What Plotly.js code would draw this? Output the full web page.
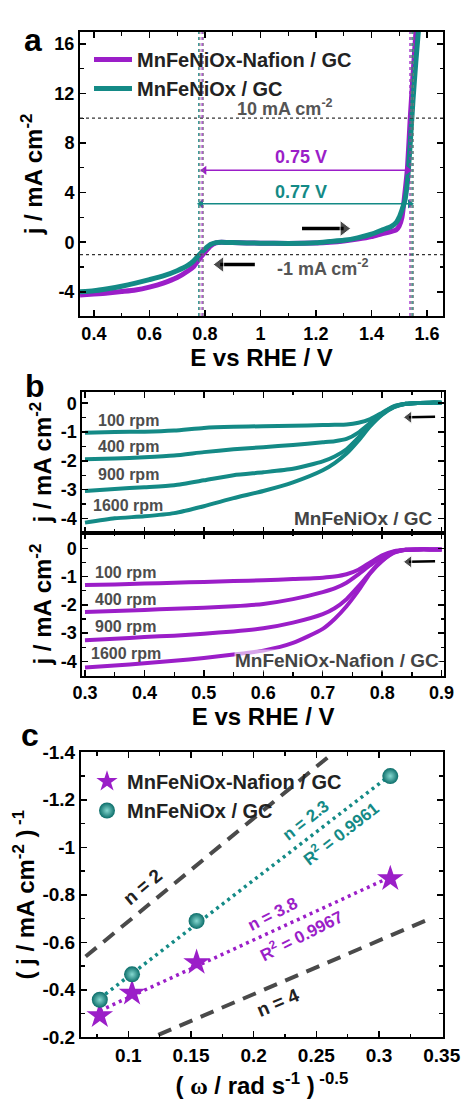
<!DOCTYPE html>
<html>
<head>
<meta charset="utf-8">
<script src="https://cdn.plot.ly/plotly-3.0.1.min.js"></script>
<style>html,body{margin:0;padding:0;background:#fff;}#chart{width:461px;height:1103px;}</style>
</head>
<body>
<div id="chart"></div>
<script>
// ---------- Panel a : LSV (ORR + OER) ----------
const aE       = [0.35,0.40,0.45,0.50,0.55,0.60,0.65,0.70,0.74,0.76,0.78,0.80,0.82,0.84,0.86,0.90,1.00,1.10,1.20,1.25,1.30,1.35,1.40,1.44,1.47,1.49,1.50,1.51,1.52,1.53,1.54,1.55,1.56,1.57];
const aNafion  = [-4.25,-4.18,-4.10,-3.98,-3.85,-3.62,-3.30,-2.85,-2.30,-1.95,-1.35,-0.80,-0.30,-0.05,0.00,-0.03,-0.08,-0.10,-0.06,0.00,0.10,0.25,0.45,0.70,0.85,1.00,1.30,2.00,3.80,6.00,10.0,13.5,16.8,20.0];
const aBare    = [-4.00,-3.92,-3.75,-3.55,-3.30,-3.02,-2.72,-2.30,-1.85,-1.50,-1.00,-0.55,-0.18,-0.03,0.00,-0.03,-0.08,-0.10,-0.05,0.05,0.15,0.35,0.65,1.00,1.25,1.60,2.00,2.60,3.30,4.90,8.00,11.5,14.5,17.2];
const aXTicks  = [0.4,0.6,0.8,1,1.2,1.4,1.6];
const aYTicks  = [-4,0,4,8,12,16];
const aRefJ    = [10, -1];                 // reference current densities (mA cm-2)
const aOnsetNafion = [0.790, 1.539];       // E at -1 and 10 mA cm-2
const aOnsetBare   = [0.778, 1.547];
const aGapLabels   = ['0.75 V', '0.77 V'];
const aGapJ        = [5.8, 3.1];

// ---------- Panel b : RDE LSVs ----------
const bE = [0.30,0.35,0.40,0.45,0.50,0.55,0.60,0.65,0.70,0.72,0.74,0.76,0.78,0.80,0.82,0.84,0.86,0.88,0.90];
const bRpm = ['100 rpm','400 rpm','900 rpm','1600 rpm'];
const bBare100  = [-1.03,-1.00,-0.99,-0.95,-0.86,-0.82,-0.80,-0.78,-0.76,-0.75,-0.74,-0.68,-0.55,-0.33,-0.10,-0.02,0.01,0.02,0.02];
const bBare400  = [-1.95,-1.92,-1.88,-1.82,-1.70,-1.60,-1.53,-1.45,-1.36,-1.32,-1.24,-1.02,-0.68,-0.36,-0.12,-0.02,0.01,0.02,0.02];
const bBare900  = [-3.05,-2.98,-2.92,-2.85,-2.68,-2.50,-2.40,-2.28,-2.02,-1.85,-1.60,-1.20,-0.75,-0.38,-0.13,-0.02,0.01,0.02,0.02];
const bBare1600 = [-4.15,-4.00,-3.93,-3.82,-3.58,-3.30,-3.05,-2.75,-2.33,-2.08,-1.75,-1.30,-0.80,-0.40,-0.14,-0.02,0.01,0.02,0.02];
const bNaf100   = [-1.30,-1.28,-1.25,-1.22,-1.19,-1.16,-1.13,-1.09,-1.04,-1.00,-0.92,-0.76,-0.50,-0.25,-0.10,-0.05,-0.04,-0.04,-0.04];
const bNaf400   = [-2.25,-2.22,-2.18,-2.14,-2.10,-2.05,-1.97,-1.80,-1.55,-1.42,-1.22,-0.92,-0.60,-0.30,-0.12,-0.05,-0.04,-0.04,-0.04];
const bNaf900   = [-3.25,-3.20,-3.14,-3.09,-3.02,-2.94,-2.83,-2.63,-2.33,-2.12,-1.80,-1.35,-0.86,-0.43,-0.15,-0.05,-0.04,-0.04,-0.04];
const bNaf1600  = [-4.22,-4.15,-4.07,-3.98,-3.88,-3.76,-3.62,-3.35,-2.85,-2.50,-2.05,-1.50,-0.88,-0.45,-0.16,-0.05,-0.04,-0.04,-0.04];
const bLabelJBare = [-0.60,-1.51,-2.49,-3.54];
const bLabelJNaf  = [-0.87,-1.81,-2.76,-3.72];
const bXTicks = [0.3,0.4,0.5,0.6,0.7,0.8,0.9];
const bYTicks = [-4,-3,-2,-1,0];

// ---------- Panel c : Koutecky-Levich ----------
const cW       = [0.0773, 0.103, 0.1545, 0.309];   // (omega / rad s-1)^-0.5
const cNafion  = [-0.291, -0.386, -0.515, -0.868];
const cBare    = [-0.358, -0.465, -0.690, -1.300];
const cN2X = [0.066, 0.264], cN2Y = [-0.54, -1.40];
const cN4X = [0.124, 0.341], cN4Y = [-0.21, -0.70];
const cXTicks = [0.1,0.15,0.2,0.25,0.3,0.35];
const cYTicks = [-1.4,-1.2,-1,-0.8,-0.6,-0.4,-0.2];

const PURPLE = '#9b1ec8', TEAL = '#148a86', GRAY = '#4a4a4a';
const FONT = 'Liberation Sans, Arial, sans-serif';
const W = 461, H = 1103;
const px = v => v / W, py = v => 1 - v / H;

function fit(x, y) {
  const n = x.length;
  const mx = x.reduce((a,b)=>a+b,0)/n, my = y.reduce((a,b)=>a+b,0)/n;
  let sxy=0, sxx=0;
  for (let i=0;i<n;i++){ sxy += (x[i]-mx)*(y[i]-my); sxx += (x[i]-mx)**2; }
  const k = sxy/sxx, b0 = my - k*mx;
  const xs = [x[0], x[n-1]];
  return {x: xs, y: xs.map(v => b0 + k*v)};
}

const traces = [];
// panel a
traces.push({x: aE, y: aNafion, xaxis:'x', yaxis:'y', mode:'lines', name:'MnFeNiOx-Nafion / GC',
  line:{color:PURPLE, width:5, shape:'spline', smoothing:0.5}, legend:'legend'});
traces.push({x: aE, y: aBare, xaxis:'x', yaxis:'y', mode:'lines', name:'MnFeNiOx / GC',
  line:{color:TEAL, width:5, shape:'spline', smoothing:0.5}, legend:'legend'});
// panel a: double-headed gap arrows and scan-direction arrows
[[aOnsetNafion, PURPLE, aGapJ[0]],[aOnsetBare, TEAL, aGapJ[1]]].forEach(([xs,c,j]) => traces.push({
  x:[xs[0]+0.008, xs[1]-0.008], y:[j,j], xaxis:'x', yaxis:'y', mode:'lines+markers', showlegend:false,
  line:{color:c, width:1.5}, marker:{symbol:['triangle-left','triangle-right'], size:8, color:c}}));
traces.push({x:[1.15,1.30], y:[1.1,1.1], xaxis:'x', yaxis:'y', mode:'lines+markers', showlegend:false,
  line:{color:'#000', width:3.5}, marker:{symbol:['circle','triangle-right'], size:[0,14], color:'#000'}});
traces.push({x:[0.98,0.855], y:[-1.8,-1.8], xaxis:'x', yaxis:'y', mode:'lines+markers', showlegend:false,
  line:{color:'#000', width:3.5}, marker:{symbol:['circle','triangle-left'], size:[0,14], color:'#000'}});
// panel b
[bBare100,bBare400,bBare900,bBare1600].forEach(y => traces.push({x:bE, y:y, xaxis:'x2', yaxis:'y2', mode:'lines',
  line:{color:TEAL, width:4, shape:'spline', smoothing:0.6}, showlegend:false}));
[bNaf100,bNaf400,bNaf900,bNaf1600].forEach(y => traces.push({x:bE, y:y, xaxis:'x3', yaxis:'y3', mode:'lines',
  line:{color:PURPLE, width:4, shape:'spline', smoothing:0.6}, showlegend:false}));
[['x2','y2',-0.47],['x3','y3',-0.46]].forEach(([xa,ya,j]) => traces.push({x:[0.889,0.845], y:[j,j-0.02], xaxis:xa, yaxis:ya,
  mode:'lines+markers', showlegend:false, line:{color:'#000', width:2.5}, marker:{symbol:['circle','triangle-left'], size:[0,11], color:'#000'}}));
// panel c
traces.push({x:cN2X, y:cN2Y, xaxis:'x4', yaxis:'y4', mode:'lines', line:{color:GRAY, width:4, dash:'14px,9px'}, showlegend:false});
traces.push({x:cN4X, y:cN4Y, xaxis:'x4', yaxis:'y4', mode:'lines', line:{color:GRAY, width:4, dash:'14px,9px'}, showlegend:false});
const fN = fit(cW, cNafion), fB = fit(cW, cBare);
traces.push({x:fB.x, y:fB.y, xaxis:'x4', yaxis:'y4', mode:'lines', line:{color:TEAL, width:3.5, dash:'3px,4px'}, showlegend:false});
traces.push({x:fN.x, y:fN.y, xaxis:'x4', yaxis:'y4', mode:'lines', line:{color:PURPLE, width:3.5, dash:'3px,4px'}, showlegend:false});
traces.push({x:cW, y:cNafion, xaxis:'x4', yaxis:'y4', mode:'markers', name:'MnFeNiOx-Nafion / GC',
  marker:{symbol:'star', size:20, color:PURPLE, line:{width:0}}, legend:'legend2'});
traces.push({x:cW, y:cBare, xaxis:'x4', yaxis:'y4', mode:'markers', name:'MnFeNiOx / GC',
  marker:{symbol:'circle', size:16, color:'#0b6d69', gradient:{type:'radial', color:'#86d8d0'}, line:{width:0}}, legend:'legend2'});

const tickFont = {family:FONT, size:18, color:'#000', weight:'bold'};
const titleFont = {family:FONT, size:24, color:'#000', weight:'bold'};
const mkMinor = (t0, dt) => ({ticks:'inside', ticklen:3.5, tickwidth:1.2, tickcolor:'#000', showgrid:false, tickmode:'linear', tick0:t0, dtick:dt});
function axis(vals, o) {
  return Object.assign({showline:true, linewidth:2, linecolor:'#000', mirror:'ticks', ticks:'inside', ticklen:6, tickwidth:1.5,
    tickcolor:'#000', showgrid:false, zeroline:false, tickfont:tickFont, fixedrange:true,
    tickmode:'array', tickvals:vals, ticktext:vals.map(String)}, o);
}

const layout = {
  width: W, height: H, margin:{l:0,r:0,t:0,b:0}, paper_bgcolor:'#fff', plot_bgcolor:'#fff',
  font:{family:FONT},
  xaxis: axis(aXTicks, {domain:[px(80),px(443)], anchor:'y', range:[0.35,1.658], minor:mkMinor(0.4,0.1),
    title:{text:'E vs RHE / V', font:titleFont, standoff:4}}),
  yaxis: axis(aYTicks, {domain:[py(316),py(32)], anchor:'x', range:[-5.95,16.95], minor:mkMinor(0,2),
    title:{text:'j / mA cm<sup>-2</sup>', font:titleFont, standoff:5}}),
  xaxis2: axis(bXTicks, {domain:[px(82.3),px(444)], anchor:'y2', range:[0.2955,0.904], showticklabels:false, minor:mkMinor(0.3,0.05)}),
  yaxis2: axis(bYTicks, {domain:[py(532.7),py(391.7)], anchor:'x2', range:[-4.5,0.4], minor:mkMinor(0,0.5),
    title:{text:'j / mA cm<sup>-2</sup>', font:titleFont, standoff:2}}),
  xaxis3: axis(bXTicks, {domain:[px(82.3),px(444)], anchor:'y3', range:[0.2955,0.904], minor:mkMinor(0.3,0.05),
    title:{text:'E vs RHE / V', font:titleFont, standoff:6}}),
  yaxis3: axis(bYTicks, {domain:[py(675.5),py(532.7)], anchor:'x3', range:[-4.5,0.55], minor:mkMinor(0,0.5),
    title:{text:'j / mA cm<sup>-2</sup>', font:titleFont, standoff:2}}),
  xaxis4: axis(cXTicks, {domain:[px(81),px(442.7)], anchor:'y4', range:[0.0623,0.3508],
    tickfont:Object.assign({}, tickFont, {size:19}), minor:mkMinor(0.1,0.025),
    title:{text:'( <span style="font-family:Liberation Serif,serif">ω</span> / rad s<sup>-1</sup> )<sup> -0.5</sup>', font:titleFont, standoff:12}}),
  yaxis4: axis(cYTicks, {domain:[py(1037.3),py(752.3)], anchor:'x4', range:[-0.2,-1.4],
    tickfont:Object.assign({}, tickFont, {size:19}), minor:mkMinor(-1.4,0.1),
    title:{text:'( j / mA cm<sup>-2</sup> )<sup> -1</sup>', font:titleFont, standoff:1}}),
  legend: {x:px(89), y:py(40), xanchor:'left', yanchor:'top', bgcolor:'rgba(0,0,0,0)', borderwidth:0,
    font:{family:FONT, size:20, color:'#222', weight:'bold'}, tracegroupgap:0, itemwidth:38},
  legend2: {x:px(87), y:py(762), xanchor:'left', yanchor:'top', bgcolor:'rgba(0,0,0,0)', borderwidth:0,
    font:{family:FONT, size:20, color:'#222', weight:'bold'}, tracegroupgap:0, itemwidth:30},
  shapes: [], annotations: []
};

// panel a reference lines
aRefJ.forEach(j => layout.shapes.push({type:'line', xref:'x domain', yref:'y', x0:0, x1:1, y0:j, y1:j, line:{color:'#333', width:1.2, dash:'dot'}}));
[[aOnsetBare, TEAL],[aOnsetNafion, PURPLE]].forEach(([xs, c]) => xs.forEach(xv => {
  layout.shapes.push({type:'line', xref:'x', yref:'y domain', x0:xv, x1:xv, y0:0, y1:1, line:{color:c, width:1.2, dash:'dot'}});
  layout.shapes.push({type:'line', xref:'x', yref:'y domain', x0:xv+0.004, x1:xv+0.004, y0:0, y1:1, line:{color:'#777', width:1, dash:'dot'}});
}));
[[aGapLabels[0], PURPLE, 6.85],[aGapLabels[1], TEAL, 4.05]].forEach(([lab,c,ly]) =>
  layout.annotations.push({xref:'x', yref:'y', x:1.148, y:ly, text:lab, showarrow:false, font:{family:FONT, size:18, color:c, weight:'bold'}}));
layout.annotations.push({xref:'x', yref:'y', x:1.088, y:10.85, text:'10 mA cm<sup>-2</sup>', showarrow:false, font:{family:FONT, size:18, color:'#555', weight:'bold'}});
layout.annotations.push({xref:'x', yref:'y', x:1.225, y:-2.0, text:'-1 mA cm<sup>-2</sup>', showarrow:false, font:{family:FONT, size:18, color:'#555', weight:'bold'}});

// panel b labels
const rpmFont = {family:FONT, size:16, color:'#4d4d4d', weight:'bold'};
bRpm.forEach((t,i) => {
  layout.annotations.push({xref:'x2', yref:'y2', x:0.373, y:bLabelJBare[i], text:t, showarrow:false, font:rpmFont});
  layout.annotations.push({xref:'x3', yref:'y3', x:0.369, y:bLabelJNaf[i], text:t, showarrow:false, font:rpmFont});
});
layout.annotations.push({xref:'x2', yref:'y2', x:0.889, y:-4.0, xanchor:'right', text:'MnFeNiOx / GC', showarrow:false, font:{family:FONT, size:19, color:'#444', weight:'bold'}});
layout.annotations.push({xref:'x3', yref:'y3', x:0.898, y:-3.96, xanchor:'right', text:'MnFeNiOx-Nafion / GC', showarrow:false, bgcolor:'rgba(255,255,255,0.6)', borderpad:0, font:{family:FONT, size:19, color:'#444', weight:'bold'}});

// panel c labels
const cl = (x,y,t,c,ang,sz) => layout.annotations.push({xref:'x4', yref:'y4', x:x, y:y, text:t, textangle:ang, showarrow:false, font:{family:FONT, size:sz, color:c, weight:'bold'}});
cl(0.2415, -1.114, 'n = 2.3', TEAL, -38, 17);
cl(0.2688, -1.062, 'R<sup>2</sup> = 0.9961', TEAL, -38, 17);
cl(0.2148, -0.718, 'n = 3.8', PURPLE, -27, 17);
cl(0.2375, -0.629, 'R<sup>2</sup> = 0.9967', PURPLE, -27, 17);
cl(0.112, -0.833, 'n = 2', '#222', -40, 19);
cl(0.2196, -0.345, 'n = 4', '#222', -23, 19);

// panel letters
[['a',22,20],['b',23,366],['c',19,735]].forEach(([t,x,y]) => layout.annotations.push({xref:'paper', yref:'paper', x:px(x), y:py(y), text:t, showarrow:false, font:{family:FONT, size:32, color:'#000', weight:'bold'}}));

Plotly.newPlot('chart', traces, layout, {staticPlot:true, displayModeBar:false});
</script>
</body>
</html>
